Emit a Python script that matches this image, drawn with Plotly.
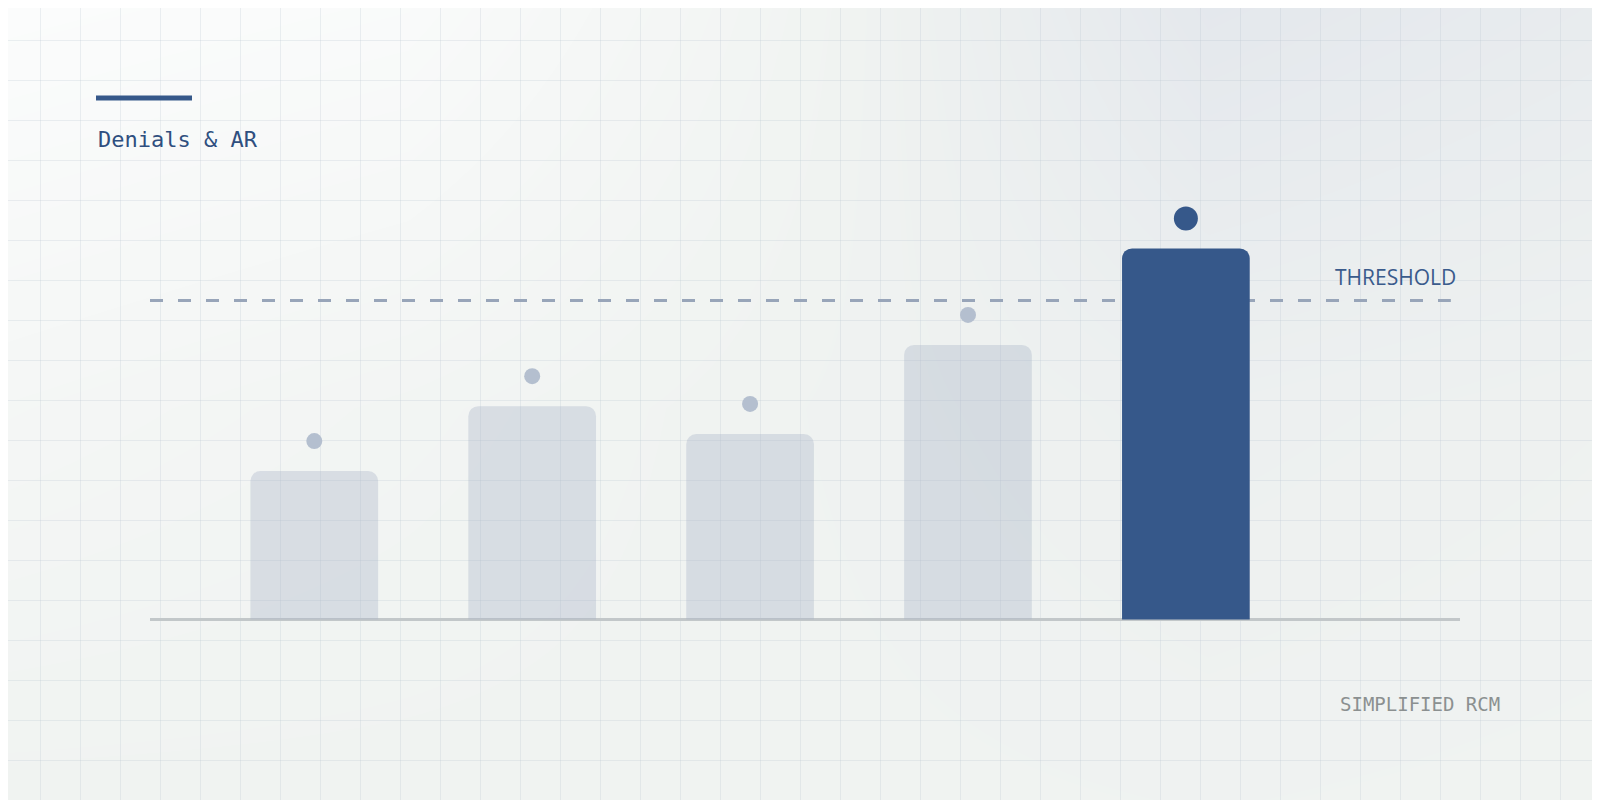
import plotly.graph_objects as go

# ---- data ----
categories = ["P1", "P2", "P3", "P4", "P5"]
denials = [40, 57.5, 50, 74, 100]
threshold = 86

title_text = "Denials & AR"
threshold_text = "THRESHOLD"
footer_text = "SIMPLIFIED RCM"

# background gradient (decoration only)
bg_x = [0, 400, 800, 1200, 1600]
bg_y = [0, 400, 800]
bg_z = [
    [0.00, 0.08, 0.45, 0.92, 0.78],
    [0.30, 0.40, 0.52, 0.62, 0.56],
    [0.50, 0.50, 0.50, 0.52, 0.50],
]

# ---- style ----
W, H = 1600, 800
OFF = 8              # page body margin: figure starts 8px in
NAVY = "#36588a"
BAR_GRAY = "rgba(168,180,200,0.36)"
DOT_GRAY = "#b4bfcf"
MONO = "DejaVu Sans Mono"
SANS = "Open Sans"

Y_MIN, Y_MAX = -5, 140   # a little room under 0 so the baseline isn't clipped
PX_PER_UNIT = 519.5 / 140
DOT_GAP_PX = 30          # dot sits this far above bar top


def px(x):
    # page x pixel -> paper fraction
    return (x - OFF) / W


def py(y):
    # page y pixel -> paper fraction
    return 1 - (y - OFF) / H


is_hot = [v > threshold for v in denials]
bar_colors = [NAVY if h else BAR_GRAY for h in is_hot]
dot_colors = [NAVY if h else DOT_GRAY for h in is_hot]
dot_sizes = [24 if h else 16 for h in is_hot]
dot_y = [v + DOT_GAP_PX / PX_PER_UNIT for v in denials]

fig = go.Figure()

# background gradient on xy (drawn first)
fig.add_trace(go.Heatmap(
    x=bg_x, y=bg_y, z=bg_z,
    zsmooth="best", showscale=False, hoverinfo="skip",
    zmin=0, zmax=1,
    colorscale=[[0.0, "#fbfcfc"], [0.5, "#f0f3f1"], [1.0, "#e2e6ec"]],
    xaxis="x", yaxis="y",
))

# grid-only subplot x2y2
fig.add_trace(go.Scatter(x=[None], y=[None], xaxis="x2", yaxis="y2",
                         showlegend=False, hoverinfo="skip"))

# bars + dots on x3y3
fig.add_trace(go.Bar(
    x=categories, y=denials, width=0.586,
    marker=dict(color=bar_colors, line=dict(width=0)),
    xaxis="x3", yaxis="y3", hoverinfo="skip", showlegend=False,
))
fig.add_trace(go.Scatter(
    x=categories, y=dot_y, mode="markers", opacity=1,
    marker=dict(color=dot_colors, size=dot_sizes, opacity=1, line=dict(width=0)),
    xaxis="x3", yaxis="y3", hoverinfo="skip", showlegend=False,
))

hidden = dict(visible=False, fixedrange=True)
grid_ax = dict(showgrid=True, gridcolor="rgba(185,198,208,0.26)", gridwidth=1,
               dtick=40, tick0=40 - OFF, showticklabels=False, ticks="",
               zeroline=False, showline=False, fixedrange=True)

x3_lo, x3_hi = -0.754, 5.258
y3_bottom = py(619.5 - Y_MIN * PX_PER_UNIT)

fig.update_layout(
    width=W, height=H,
    margin=dict(l=0, r=0, t=0, b=0),
    paper_bgcolor="#f6f7f7",
    plot_bgcolor="rgba(0,0,0,0)",
    showlegend=False,
    barcornerradius=10,
    xaxis=dict(domain=[0, 1], range=[0, W], anchor="y", **hidden),
    yaxis=dict(domain=[0, 1], range=[H, 0], anchor="x", **hidden),
    xaxis2=dict(domain=[0, 1], range=[0, W], anchor="y2", **grid_ax),
    yaxis2=dict(domain=[0, 1], range=[H, 0], anchor="x2", **grid_ax),
    xaxis3=dict(domain=[px(150), px(1460)], range=[x3_lo, x3_hi], anchor="y3",
                type="category", **hidden),
    yaxis3=dict(domain=[y3_bottom, y3_bottom + (Y_MAX - Y_MIN) * PX_PER_UNIT / H],
                range=[Y_MIN, Y_MAX], anchor="x3", **hidden),
)

# baseline + threshold (below bars)
fig.add_shape(type="line", xref="x3", yref="y3", x0=x3_lo, x1=x3_hi, y0=0, y1=0,
              line=dict(color="#c2c7c9", width=3), layer="below")
fig.add_shape(type="line", xref="x3", yref="y3",
              x0=x3_lo, x1=x3_lo + 0.993 * (x3_hi - x3_lo),
              y0=threshold, y1=threshold,
              line=dict(color="#98a5b9", width=3, dash="13px,15px"), layer="below")

# accent line above title
fig.add_shape(type="line", xref="paper", yref="paper",
              x0=px(96), x1=px(192), y0=py(98), y1=py(98),
              line=dict(color=NAVY, width=5))

fig.add_annotation(text=title_text, xref="paper", yref="paper",
                   x=px(96), y=py(139), xanchor="left", yanchor="middle",
                   showarrow=False, font=dict(family=MONO, size=22, color="#2f4f7f"))
fig.add_annotation(text=threshold_text, xref="paper", yref="paper",
                   x=px(1458), y=py(277), xanchor="right", yanchor="middle",
                   showarrow=False, font=dict(family=SANS, size=21, color="#3a5b8c"))
fig.add_annotation(text=footer_text, xref="paper", yref="paper",
                   x=px(1502), y=py(704), xanchor="right", yanchor="middle",
                   showarrow=False, font=dict(family=MONO, size=19, color="#8b9090"))

fig.write_html("out.html")
